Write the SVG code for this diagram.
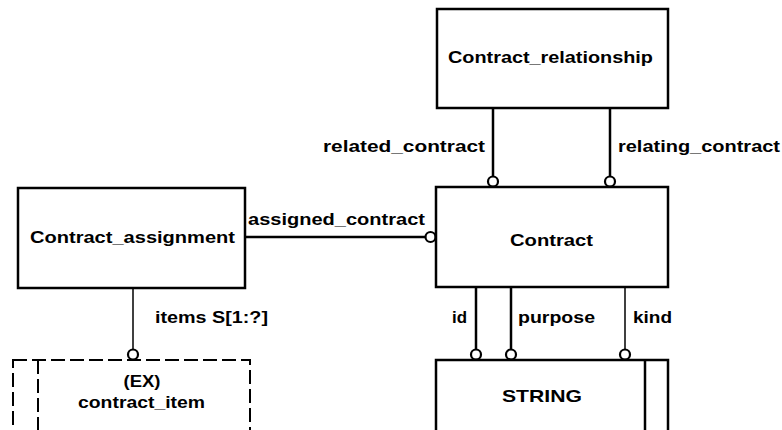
<svg xmlns="http://www.w3.org/2000/svg" width="782" height="430" viewBox="0 0 782 430">
<style>
.box{fill:#fff;stroke:#000;stroke-width:2.5}
.dbox{fill:#fff;stroke:#000;stroke-width:2;stroke-dasharray:14 5}
.t{font-family:"Liberation Sans",Arial,sans-serif;font-weight:bold;font-size:17px;fill:#000}
.thick{stroke:#000;stroke-width:2.5;fill:none}
.thin{stroke:#000;stroke-width:1.5;fill:none}
.o{fill:#fff;stroke:#000;stroke-width:2.2}
</style>
<rect width="782" height="430" fill="#fff"/>
<g id="connectors">
  <line class="thick" x1="493" y1="108" x2="493" y2="176"/>
  <circle class="o" cx="493" cy="181.5" r="5"/>
  <text class="t" x="323" y="152" textLength="162" lengthAdjust="spacingAndGlyphs">related_contract</text>
  <line class="thick" x1="610" y1="108" x2="610" y2="176"/>
  <circle class="o" cx="610" cy="181.5" r="5"/>
  <text class="t" x="618" y="152" textLength="162" lengthAdjust="spacingAndGlyphs">relating_contract</text>
  <line class="thick" x1="245" y1="237" x2="426" y2="237"/>
  <circle class="o" cx="430.5" cy="237" r="5"/>
  <text class="t" x="248" y="225" textLength="177" lengthAdjust="spacingAndGlyphs">assigned_contract</text>
  <line class="thin" x1="133" y1="288" x2="133" y2="349"/>
  <circle class="o" cx="133" cy="354.5" r="5"/>
  <text class="t" x="155" y="323" textLength="113" lengthAdjust="spacingAndGlyphs">items S[1:?]</text>
  <line class="thick" x1="476" y1="287" x2="476" y2="349"/>
  <circle class="o" cx="476" cy="354.5" r="5"/>
  <text class="t" x="452" y="323" textLength="15" lengthAdjust="spacingAndGlyphs">id</text>
  <line class="thick" x1="511" y1="287" x2="511" y2="349"/>
  <circle class="o" cx="511" cy="354.5" r="5"/>
  <text class="t" x="518" y="323" textLength="77" lengthAdjust="spacingAndGlyphs">purpose</text>
  <line class="thin" x1="625" y1="287" x2="625" y2="349"/>
  <circle class="o" cx="625" cy="354.5" r="5"/>
  <text class="t" x="633" y="323" textLength="39" lengthAdjust="spacingAndGlyphs">kind</text>
</g>
<g id="Contract_relationship">
  <rect class="box" x="437" y="9" width="231" height="99"/>
  <text class="t" x="448" y="63" textLength="205" lengthAdjust="spacingAndGlyphs">Contract_relationship</text>
</g>
<g id="Contract">
  <rect class="box" x="436" y="187" width="232" height="100"/>
  <text class="t" x="510" y="246" textLength="83" lengthAdjust="spacingAndGlyphs">Contract</text>
</g>
<g id="Contract_assignment">
  <rect class="box" x="18" y="188" width="227" height="100"/>
  <text class="t" x="30" y="243" textLength="205" lengthAdjust="spacingAndGlyphs">Contract_assignment</text>
</g>
<g id="contract_item">
  <rect class="dbox" x="13" y="360" width="237" height="90"/>
  <line class="dbox" x1="38" y1="360" x2="38" y2="440"/>
  <text class="t" x="142" y="387" text-anchor="middle" textLength="37" lengthAdjust="spacingAndGlyphs">(EX)</text>
  <text class="t" x="78" y="408" textLength="127" lengthAdjust="spacingAndGlyphs">contract_item</text>
</g>
<g id="STRING">
  <rect class="box" x="436" y="360" width="232" height="90"/>
  <line class="thick" x1="645" y1="360" x2="645" y2="440"/>
  <text class="t" x="502" y="402" textLength="80" lengthAdjust="spacingAndGlyphs">STRING</text>
</g>
</svg>
